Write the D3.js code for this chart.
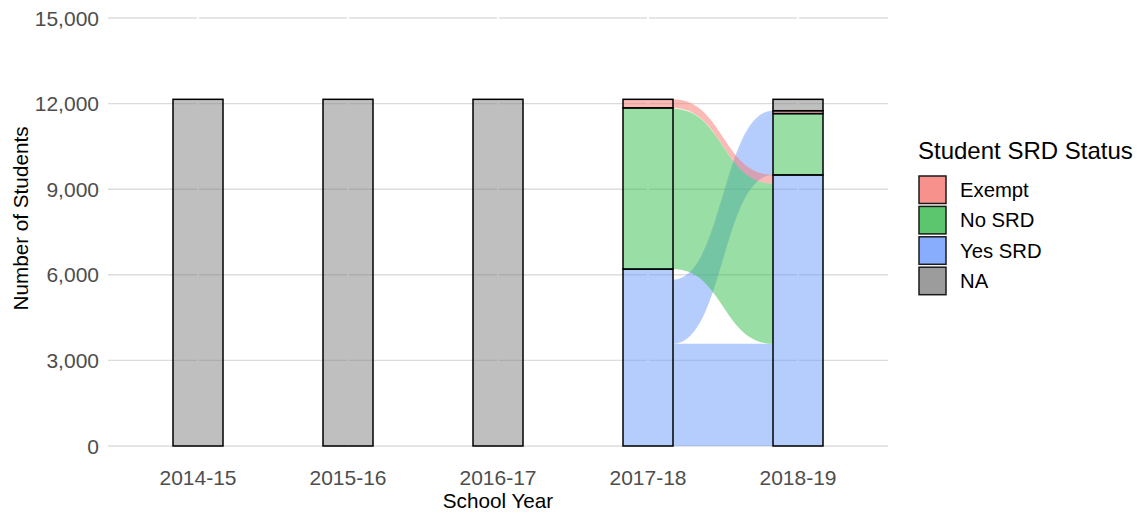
<!DOCTYPE html>
<html>
<head>
<meta charset="utf-8">
<script src="https://cdn.jsdelivr.net/npm/d3@7"></script>
<style>
  body { margin: 0; background: #fff; }
  svg { display: block; font-family: "Liberation Sans", Arial, sans-serif; }
</style>
</head>
<body>
<svg id="chart" width="1140" height="521"></svg>
<script>
// ---- Data ----
const years = ["2014-15", "2015-16", "2016-17", "2017-18", "2018-19"];
const statuses = ["Yes SRD", "No SRD", "Exempt", "NA"]; // stacking order bottom -> top
const legendOrder = ["Exempt", "No SRD", "Yes SRD", "NA"];
const yesSRD = [0, 0, 0, 6200, 9500];
const noSRD = [0, 0, 0, 5650, 2150];
const exempt = [0, 0, 0, 300, 100];
const naCount = [12150, 12150, 12150, 0, 400];
// flows 2017-18 -> 2018-19
const flowFrom = ["Yes SRD", "Yes SRD", "Yes SRD", "Yes SRD", "No SRD", "No SRD", "Exempt"];
const flowTo = ["Yes SRD", "No SRD", "Exempt", "NA", "Yes SRD", "NA", "Yes SRD"];
const flowValue = [3580, 2150, 100, 370, 5620, 30, 300];
const yTicks = [0, 3000, 6000, 9000, 12000, 15000];

// ---- Styles ----
const fillColor = { "Exempt": "#F8766D", "No SRD": "#33BD4A", "Yes SRD": "#6B9BFB", "NA": "#7F7F7F" };
const legendColor = { "Exempt": "#F7918B", "No SRD": "#5BC66E", "Yes SRD": "#88ADFC", "NA": "#9C9C9C" };

const counts = { "Yes SRD": yesSRD, "No SRD": noSRD, "Exempt": exempt, "NA": naCount };

const svg = d3.select("#chart");
const x = d3.scalePoint().domain(years).range([108, 888]).padding(0.6);
const barW = x.step() / 3;
const y = d3.scaleLinear().domain([0, 15000]).range([446, 18]);

// gridlines
svg.append("g").selectAll("line").data(yTicks).join("line")
  .attr("x1", 108).attr("x2", 888)
  .attr("y1", d => y(d)).attr("y2", d => y(d))
  .attr("stroke", "#DCDCDC").attr("stroke-width", 1.4);
svg.append("g").selectAll("line").data(years).join("line")
  .attr("x1", d => x(d)).attr("x2", d => x(d))
  .attr("y1", 10).attr("y2", 455)
  .attr("stroke", "#FFFFFF").attr("stroke-width", 2);

// y tick labels
svg.append("g").selectAll("text").data(yTicks).join("text")
  .attr("x", 99).attr("y", d => y(d) + 7.5)
  .attr("text-anchor", "end").attr("font-size", 21).attr("fill", "#4D4D4D")
  .text(d => d3.format(",")(d));

// x tick labels
svg.append("g").selectAll("text").data(years).join("text")
  .attr("x", d => x(d)).attr("y", 485)
  .attr("text-anchor", "middle").attr("font-size", 21).attr("fill", "#4D4D4D")
  .text(d => d);

// axis titles
svg.append("text").attr("x", 498).attr("y", 508).attr("text-anchor", "middle")
  .attr("font-size", 20.7).attr("fill", "#000").text("School Year");
svg.append("text").attr("transform", "translate(28,218.5) rotate(-90)").attr("text-anchor", "middle")
  .attr("font-size", 20.7).attr("fill", "#000").text("Number of Students");

// strata positions
const strata = [];
years.forEach((yr, i) => {
  let cum = 0;
  statuses.forEach(s => {
    const v = counts[s][i];
    strata.push({ year: yr, status: s, lo: cum, hi: cum + v });
    cum += v;
  });
});
const stratum = (yr, s) => strata.find(d => d.year === yr && d.status === s);

// flows
const fromYear = "2017-18", toYear = "2018-19";
const outCum = {}, inCum = {};
statuses.forEach(s => { outCum[s] = stratum(fromYear, s).lo; inCum[s] = stratum(toYear, s).lo; });
const order = flowFrom.map((f, i) => i);
// outgoing order: by from stratum, then by to stratum
const flows = order.map(i => ({ from: flowFrom[i], to: flowTo[i], v: flowValue[i] }));
const outSorted = flows.slice().sort((a, b) => statuses.indexOf(a.from) - statuses.indexOf(b.from) || statuses.indexOf(a.to) - statuses.indexOf(b.to));
outSorted.forEach(f => { f.y0lo = outCum[f.from]; f.y0hi = outCum[f.from] + f.v; outCum[f.from] += f.v; });
const inSorted = flows.slice().sort((a, b) => statuses.indexOf(a.to) - statuses.indexOf(b.to) || statuses.indexOf(a.from) - statuses.indexOf(b.from));
inSorted.forEach(f => { f.y1lo = inCum[f.to]; f.y1hi = inCum[f.to] + f.v; inCum[f.to] += f.v; });

const x0 = x(fromYear) + barW / 2, x1 = x(toYear) - barW / 2, xm = (x0 + x1) / 2;
function flowPath(f) {
  const a = y(f.y0hi), b = y(f.y0lo), c = y(f.y1hi), d = y(f.y1lo);
  return `M${x0},${a} C${xm},${a} ${xm},${c} ${x1},${c} L${x1},${d} C${xm},${d} ${xm},${b} ${x0},${b} Z`;
}
svg.append("g").selectAll("path")
  .data(flows.filter(f => f.from !== "NA" && f.to !== "NA"))
  .join("path")
  .attr("d", flowPath)
  .attr("fill", f => fillColor[f.from]).attr("fill-opacity", 0.5).attr("stroke", "none");

// strata rects
svg.append("g").selectAll("rect").data(strata.filter(d => d.hi > d.lo)).join("rect")
  .attr("x", d => x(d.year) - barW / 2).attr("width", barW)
  .attr("y", d => y(d.hi)).attr("height", d => y(d.lo) - y(d.hi))
  .attr("fill", d => fillColor[d.status]).attr("fill-opacity", 0.5)
  .attr("stroke", "#000").attr("stroke-width", 1.5);

// legend
const lg = svg.append("g");
lg.append("text").attr("x", 918).attr("y", 158.5).attr("font-size", 24).attr("fill", "#000")
  .text("Student SRD Status");
const li = lg.selectAll("g.item").data(legendOrder).join("g").attr("class", "item")
  .attr("transform", (d, i) => `translate(919,${176 + i * 30.4})`);
li.append("rect").attr("width", 27).attr("height", 27.5)
  .attr("fill", d => legendColor[d]).attr("stroke", "#1a1a1a").attr("stroke-width", 1.5);
li.append("text").attr("x", 41).attr("y", 13.75 + 7.3).attr("font-size", 20.3).attr("fill", "#000")
  .text(d => d);
</script>
</body>
</html>
